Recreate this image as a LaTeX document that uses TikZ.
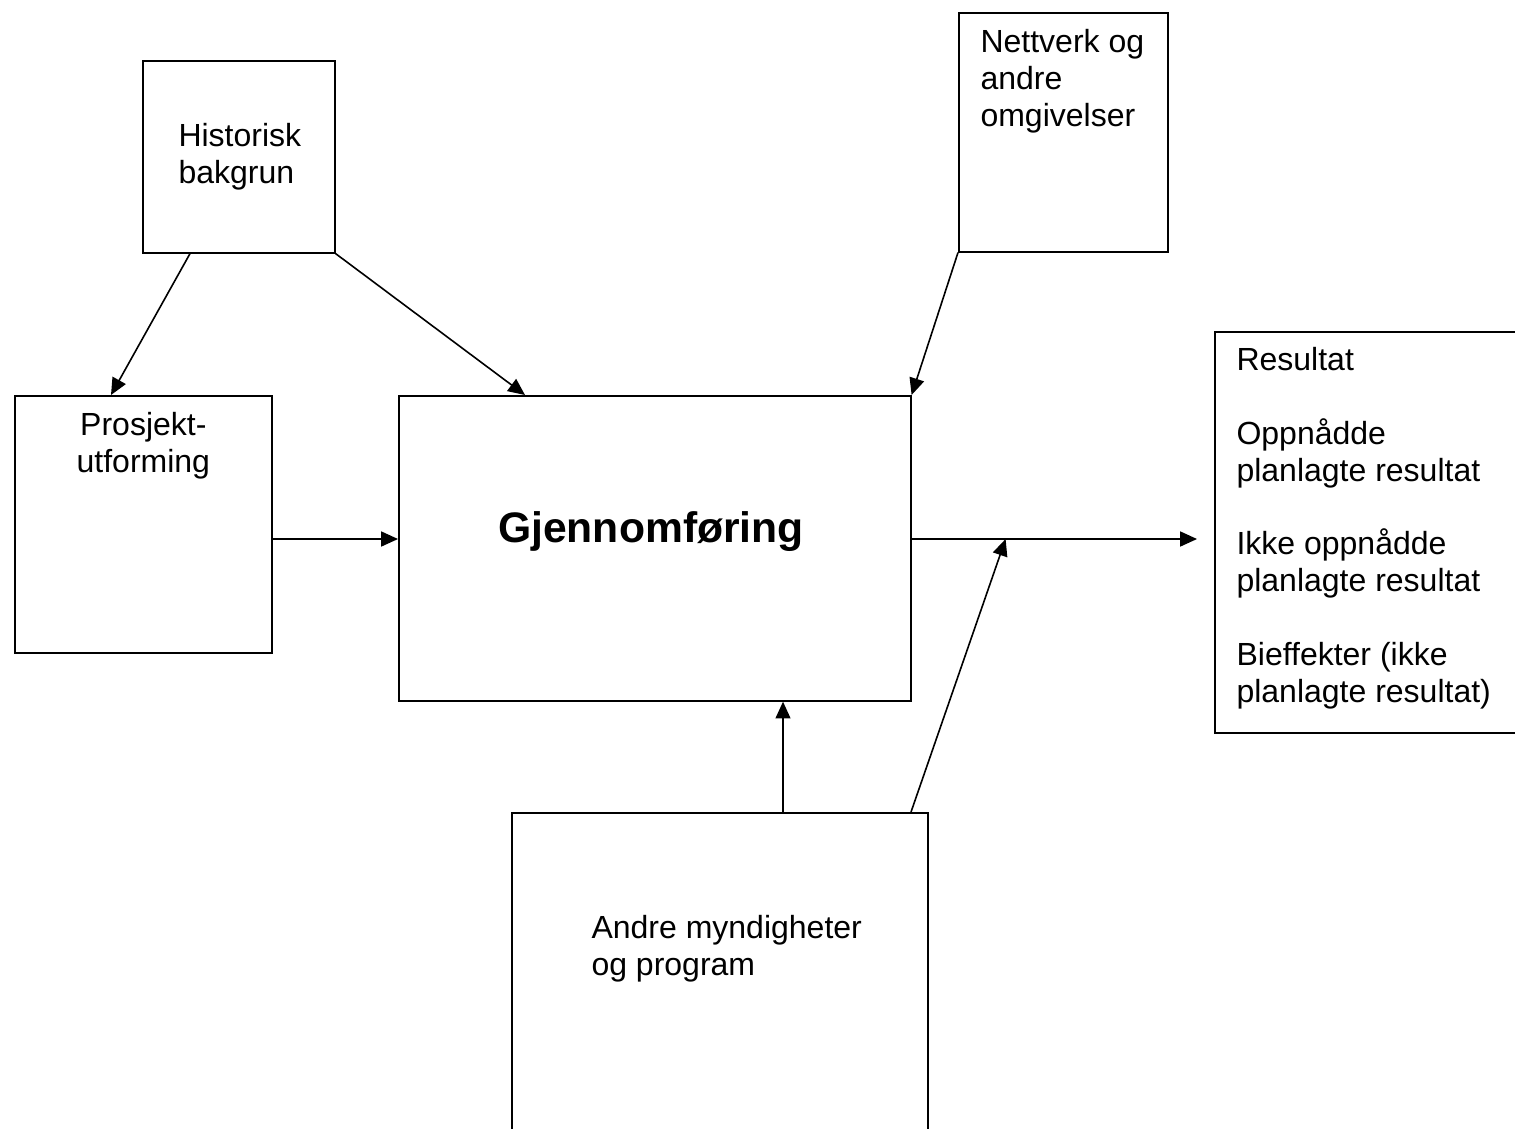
\documentclass[tikz,border=0pt]{standalone}
\usepackage{fontspec}
\setmainfont{Liberation Sans}
\usetikzlibrary{arrows.meta,calc}

\tikzset{
  boks/.style={draw, line width=0.6pt, inner sep=0pt, anchor=north west},
  tekst/.style={inner sep=0pt, font=\fontsize{12}{13.8}\selectfont},
  pil/.style={-{Triangle[length=6.3pt,width=5.6pt]}, line width=0.6pt},
}

\begin{document}
\begin{tikzpicture}[x=0.375pt, y=-0.375pt]
\useasboundingbox (0,0) rectangle (1515,1128);
\clip (0,0) rectangle (1515,1128);

% boksene
\node[boks, minimum width=72pt, minimum height=72pt] (hist) at (142,60) {};
\node[boks, minimum width=78.4pt, minimum height=89.6pt] (nett) at (958,12) {};
\node[boks, minimum width=96.4pt, minimum height=96.4pt] (prosj) at (14,395) {};
\node[boks, minimum width=192pt, minimum height=114.4pt] (gjenn) at (398,395) {};
\node[boks, minimum width=122.3pt, minimum height=150.4pt] (res) at (1214,331) {};
\node[boks, minimum width=156pt, minimum height=126.8pt] (andre) at (511,812) {};

% tekstene (base = siste linje)
\node[tekst, align=left, anchor=base west] (histtxt) at ($(hist.north west)+(36,123)$) {Historisk\\bakgrun};
\node[tekst, align=left, anchor=base west] (netttxt) at ($(nett.north west)+(22,114)$) {Nettverk og\\andre\\omgivelser};
\node[tekst, align=center, anchor=base] (prosjtxt) at ($(prosj.north)+(0,77)$) {Prosjekt-\\utforming};
\node[inner sep=0pt, font=\fontsize{16}{18.4}\selectfont\bfseries, anchor=base] (gjenntxt) at ($(gjenn.north west)+(253,147)$) {Gjennomføring};
\node[tekst, align=left, anchor=base west] (restxt) at ($(res.north west)+(22,371)$)
  {Resultat\\[13.8pt]Oppnådde\\planlagte resultat\\[13.8pt]Ikke oppnådde\\planlagte resultat\\[13.8pt]Bieffekter (ikke\\planlagte resultat)};
\node[tekst, align=left, anchor=base west] (andretxt) at ($(andre.north west)+(80,163)$) {Andre myndigheter\\og program};

% pilene
\draw[pil] ($(hist.south west)+(48,0)$) -- ($(prosj.north west)+(97,0)$);
\draw[pil] (hist.south east) -- ($(gjenn.north west)+(127,0)$);
\draw[pil] (nett.south west) -- (gjenn.north east);
\draw[pil] ($(prosj.north east)+(0,144)$) -- ($(gjenn.north west)+(0,144)$);
\draw[pil] ($(gjenn.north east)+(0,144)$) -- ($(res.north west)+(-17,208)$);
\draw[pil] ($(andre.north west)+(272,0)$) -- ($(gjenn.south west)+(385,0)$);
\draw[pil] ($(andre.north west)+(400,0)$) -- ($(gjenn.north east)+(94,144)$);

\end{tikzpicture}
\end{document}
